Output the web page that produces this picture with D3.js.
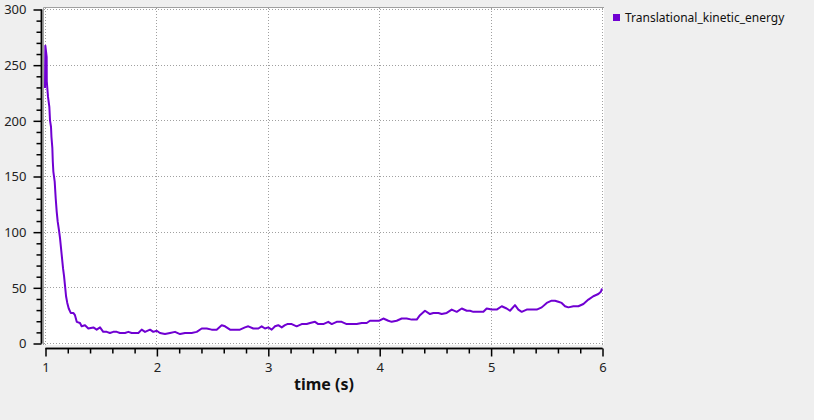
<!DOCTYPE html>
<html>
<head>
<meta charset="utf-8">
<script src="https://cdn.jsdelivr.net/npm/d3@7"></script>
<style>
  html, body { margin: 0; padding: 0; background: #efefef; }
  text { font-family: "Noto Sans", "Open Sans", sans-serif; }
</style>
</head>
<body>
<div id="chart"></div>
<script>
// series (time in s, energy)
const seriesName = 'Translational_kinetic_energy';
const times = [
  1.000, 1.003, 1.015, 1.016, 1.027, 1.039, 1.045, 1.054, 1.058, 1.066, 1.070, 1.075, 1.087, 1.096,
  1.105, 1.114, 1.126, 1.135, 1.144, 1.153, 1.162, 1.171, 1.180, 1.189, 1.200, 1.213, 1.231,
  1.254, 1.269, 1.285, 1.314, 1.329, 1.359, 1.389, 1.434, 1.464, 1.494, 1.523, 1.554, 1.583,
  1.613, 1.644, 1.673, 1.718, 1.748, 1.778, 1.838, 1.868, 1.898, 1.943, 1.972, 2.003, 2.032,
  2.077, 2.122, 2.167, 2.212, 2.257, 2.317, 2.362, 2.407, 2.452, 2.496, 2.541, 2.586, 2.616,
  2.661, 2.706, 2.750, 2.795, 2.825, 2.870, 2.915, 2.945, 2.975, 3.004, 3.035, 3.065, 3.094,
  3.125, 3.154, 3.175, 3.215, 3.259, 3.304, 3.349, 3.379, 3.424, 3.453, 3.498, 3.543, 3.574,
  3.618, 3.663, 3.708, 3.753, 3.798, 3.843, 3.888, 3.917, 3.962, 4.001, 4.037, 4.082, 4.112,
  4.157, 4.202, 4.247, 4.292, 4.337, 4.366, 4.411, 4.456, 4.486, 4.531, 4.561, 4.606, 4.651,
  4.696, 4.741, 4.786, 4.815, 4.845, 4.890, 4.935, 4.965, 5.010, 5.055, 5.100, 5.144, 5.174,
  5.219, 5.249, 5.279, 5.324, 5.369, 5.414, 5.459, 5.504, 5.548, 5.578, 5.608, 5.638, 5.668,
  5.698, 5.743, 5.788, 5.833, 5.878, 5.922, 5.967, 5.990, 6.000
];
const energy = [
  229, 267, 257, 235, 221, 212, 200, 194, 185, 175, 163, 154, 145, 130,
  118, 109, 101, 94, 85, 76, 67, 60, 51, 42, 36, 31, 27,
  27, 25, 19, 18, 15, 16, 13, 14, 12, 14, 10, 10, 9,
  10, 10, 9, 9, 10, 9, 9, 12, 10, 12, 10, 11, 9,
  8, 9, 10, 8, 9, 9, 10, 13, 13, 12, 12, 16, 15,
  12, 12, 12, 14, 15, 13, 13, 15, 13, 14, 12, 15, 16,
  14, 16, 17, 17, 15, 17, 17, 18, 19, 17, 17, 19, 17,
  19, 19, 17, 17, 17, 18, 18, 20, 20, 20, 22, 20, 19,
  20, 22, 22, 21, 21, 25, 29, 26, 27, 27, 26, 27, 30,
  28, 31, 29, 29, 28, 28, 28, 31, 30, 30, 33, 31, 29,
  34, 30, 28, 30, 30, 30, 32, 36, 38, 38, 37, 36, 33,
  32, 33, 33, 35, 39, 42, 44, 46, 49
];
const xTicks = [1, 2, 3, 4, 5, 6];
const yTicks = [0, 50, 100, 150, 200, 250, 300];
const xLabel = 'time (s)';

const W = 814, H = 420;
const x0 = 45, x1 = 602, y0 = 343, y1 = 9;
const lineColor = '#7000d2';

const svg = d3.select('#chart')
  .append('svg')
  .attr('width', W)
  .attr('height', H)
  .style('display', 'block');

svg.append('rect').attr('width', W).attr('height', H).attr('fill', '#efefef');

const x = d3.scaleLinear().domain([1, 6]).range([x0, x1]);
const y = d3.scaleLinear().domain([0, 300]).range([y0, y1]);

// plot frame: white area with a sunken top/left edge
svg.append('rect')
  .attr('x', 43).attr('y', 7)
  .attr('width', 604 - 43).attr('height', 345 - 7)
  .attr('fill', '#fff');
svg.append('path')
  .attr('d', 'M43.5,345V7.5H604')
  .attr('fill', 'none')
  .attr('stroke', '#a0a0a0');

// dotted grid
const grid = svg.append('g')
  .attr('stroke', '#a0a0a0')
  .attr('stroke-dasharray', '1,2');
grid.selectAll('.gx').data(xTicks).enter().append('line')
  .attr('x1', d => Math.round(x(d)) + 0.5).attr('x2', d => Math.round(x(d)) + 0.5)
  .attr('y1', 8).attr('y2', 345);
grid.selectAll('.gy').data(yTicks).enter().append('line')
  .attr('y1', d => Math.round(y(d)) + 0.5).attr('y2', d => Math.round(y(d)) + 0.5)
  .attr('x1', 44).attr('x2', 604);

// y axis
const yAxis = svg.append('g')
  .attr('transform', 'translate(41.5,0.5)')
  .call(d3.axisLeft(y).tickValues(yTicks).tickSize(8).tickPadding(7).tickFormat(d3.format('d')));
yAxis.append('g')
  .call(d3.axisLeft(y).tickValues(d3.range(0, 301, 10).filter(v => v % 50)).tickSize(5).tickFormat(''));

// x axis
const xAxis = svg.append('g')
  .attr('transform', 'translate(0.5,348.5)')
  .call(d3.axisBottom(x).tickValues(xTicks).tickSize(8).tickPadding(6).tickFormat(d3.format('d')));
xAxis.append('g')
  .call(d3.axisBottom(x).tickValues(d3.range(1, 6.01, 0.2).filter(v => Math.abs(v - Math.round(v)) > 0.01)).tickSize(5).tickFormat(''));

svg.selectAll('.domain').attr('stroke', '#000').attr('stroke-width', 1.5);
svg.selectAll('.tick line').attr('stroke', '#000').attr('stroke-width', 1.5);
svg.selectAll('.tick text')
  .attr('fill', '#222')
  .style('font-size', '13px')
  .style('font-family', '"Noto Sans", sans-serif');

// hide the end caps d3 draws on the domain line
yAxis.selectAll('.domain').attr('d', `M0,${y(300)}V${y(0)}`);
xAxis.selectAll('.domain').attr('d', `M${x(1)},0H${x(6)}`);

svg.append('text')
  .attr('x', (x0 + x1) / 2 + 0.5)
  .attr('y', 390)
  .attr('text-anchor', 'middle')
  .attr('fill', '#111')
  .style('font-size', '16px')
  .style('font-weight', 'bold')
  .text(xLabel);

// the series
const data = times.map((t, i) => [t, energy[i]]);
svg.append('path')
  .datum(data)
  .attr('fill', 'none')
  .attr('stroke', lineColor)
  .attr('stroke-width', 2)
  .attr('stroke-linejoin', 'round')
  .attr('d', d3.line().x(d => x(d[0])).y(d => y(d[1])));

// legend
svg.append('rect')
  .attr('x', 613).attr('y', 14)
  .attr('width', 7).attr('height', 7)
  .attr('fill', lineColor);
svg.append('text')
  .attr('x', 625).attr('y', 22)
  .attr('fill', '#111')
  .style('font-size', '12px')
  .text(seriesName);
</script>
</body>
</html>
